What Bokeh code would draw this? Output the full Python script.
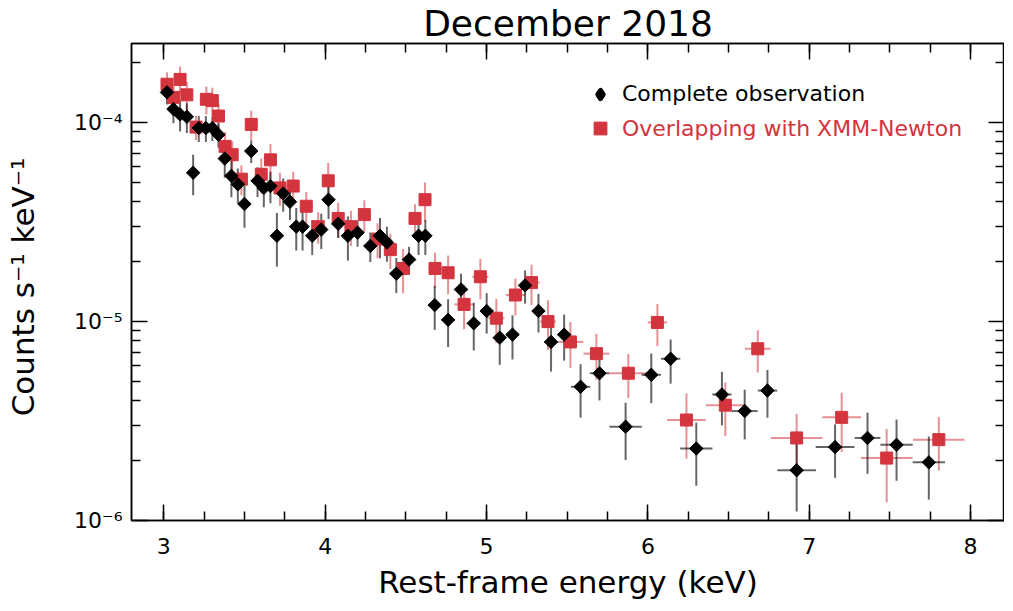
import numpy as np
from bokeh.plotting import figure
from bokeh.models import (ColumnDataSource, Range1d, LinearAxis, LogAxis, FixedTicker,
                          SingleIntervalTicker, CustomJSTickFormatter, Legend, LegendItem)
from bokeh.embed import file_html
from bokeh.resources import INLINE

# ---------------- data ----------------
complete_energy = [3.020, 3.060, 3.101, 3.143, 3.182, 3.217, 3.261, 3.301, 3.339, 3.378,
                   3.419, 3.459, 3.500, 3.542, 3.581, 3.620, 3.661, 3.701, 3.740, 3.782,
                   3.821, 3.860, 3.920, 3.976, 4.021, 4.081, 4.141, 4.201, 4.280, 4.340,
                   4.383, 4.441, 4.520, 4.579, 4.621, 4.679, 4.762, 4.842, 4.921, 5.001,
                   5.082, 5.161, 5.239, 5.322, 5.400, 5.481, 5.583, 5.700, 5.862, 6.021,
                   6.141, 6.300, 6.459, 6.600, 6.741, 6.922, 7.160, 7.361, 7.541, 7.741]
complete_counts = [1.42e-4, 1.17e-4, 1.10e-4, 1.07e-4, 5.6e-5, 9.4e-5, 9.4e-5, 9.4e-5, 8.7e-5, 6.6e-5,
                   5.4e-5, 4.9e-5, 3.9e-5, 7.2e-5, 5.1e-5, 4.7e-5, 4.8e-5, 2.7e-5, 4.4e-5, 4.0e-5,
                   3.0e-5, 3.0e-5, 2.7e-5, 2.9e-5, 4.1e-5, 3.1e-5, 2.7e-5, 2.8e-5, 2.4e-5, 2.7e-5,
                   2.5e-5, 1.74e-5, 2.05e-5, 2.7e-5, 2.7e-5, 1.21e-5, 1.02e-5, 1.45e-5, 9.8e-6, 1.13e-5,
                   8.3e-6, 8.6e-6, 1.52e-5, 1.13e-5, 7.9e-6, 8.6e-6, 4.7e-6, 5.5e-6, 2.96e-6, 5.4e-6,
                   6.5e-6, 2.3e-6, 4.3e-6, 3.55e-6, 4.5e-6, 1.79e-6, 2.34e-6, 2.6e-6, 2.4e-6, 1.96e-6]
complete_rel_err = [0.13, 0.15, 0.18, 0.17, 0.23, 0.15, 0.15, 0.14, 0.14, 0.20,
                    0.22, 0.20, 0.24, 0.13, 0.17, 0.20, 0.18, 0.30, 0.19, 0.19,
                    0.24, 0.24, 0.20, 0.20, 0.20, 0.15, 0.25, 0.15, 0.17, 0.23,
                    0.20, 0.20, 0.16, 0.20, 0.20, 0.25, 0.27, 0.20, 0.27, 0.23,
                    0.27, 0.25, 0.19, 0.22, 0.29, 0.26, 0.30, 0.27, 0.32, 0.28,
                    0.25, 0.35, 0.30, 0.28, 0.27, 0.38, 0.30, 0.34, 0.34, 0.35]
complete_half_bin = [0.02, 0.02, 0.02, 0.02, 0.02, 0.02, 0.02, 0.02, 0.02, 0.02,
                     0.02, 0.02, 0.02, 0.02, 0.02, 0.02, 0.02, 0.02, 0.02, 0.02,
                     0.02, 0.02, 0.03, 0.025, 0.025, 0.03, 0.03, 0.03, 0.04, 0.025,
                     0.025, 0.035, 0.04, 0.025, 0.02, 0.04, 0.04, 0.04, 0.04, 0.04,
                     0.04, 0.04, 0.04, 0.04, 0.04, 0.04, 0.06, 0.06, 0.10, 0.06,
                     0.06, 0.10, 0.06, 0.08, 0.06, 0.12, 0.12, 0.08, 0.10, 0.10]

xmm_energy = [3.020, 3.060, 3.101, 3.143, 3.200, 3.264, 3.301, 3.339, 3.380, 3.424,
              3.481, 3.542, 3.604, 3.661, 3.720, 3.802, 3.883, 3.957, 4.019, 4.081,
              4.160, 4.243, 4.325, 4.404, 4.483, 4.557, 4.619, 4.681, 4.762, 4.861,
              4.962, 5.061, 5.179, 5.279, 5.381, 5.520, 5.681, 5.879, 6.059, 6.239,
              6.480, 6.681, 6.922, 7.201, 7.480, 7.803]
xmm_counts = [1.56e-4, 1.34e-4, 1.65e-4, 1.38e-4, 9.5e-5, 1.31e-4, 1.29e-4, 1.08e-4, 7.6e-5, 6.9e-5,
              5.2e-5, 9.8e-5, 5.5e-5, 6.5e-5, 4.7e-5, 4.8e-5, 3.8e-5, 3.0e-5, 5.1e-5, 3.3e-5,
              3.0e-5, 3.45e-5, 2.6e-5, 2.3e-5, 1.85e-5, 3.3e-5, 4.1e-5, 1.85e-5, 1.76e-5, 1.22e-5,
              1.68e-5, 1.04e-5, 1.36e-5, 1.57e-5, 1.0e-5, 7.9e-6, 6.9e-6, 5.5e-6, 9.9e-6, 3.2e-6,
              3.8e-6, 7.3e-6, 2.6e-6, 3.3e-6, 2.06e-6, 2.55e-6]
xmm_rel_err = [0.15, 0.15, 0.16, 0.16, 0.14, 0.16, 0.16, 0.16, 0.18, 0.17,
               0.17, 0.17, 0.20, 0.20, 0.19, 0.18, 0.18, 0.18, 0.23, 0.20,
               0.20, 0.18, 0.20, 0.20, 0.25, 0.18, 0.22, 0.20, 0.22, 0.25,
               0.23, 0.25, 0.21, 0.23, 0.28, 0.26, 0.26, 0.25, 0.24, 0.36,
               0.30, 0.24, 0.32, 0.33, 0.40, 0.30]
xmm_half_bin = [0.02, 0.02, 0.02, 0.02, 0.03, 0.03, 0.02, 0.02, 0.02, 0.025,
                0.03, 0.03, 0.03, 0.03, 0.03, 0.04, 0.04, 0.04, 0.03, 0.03,
                0.04, 0.04, 0.04, 0.04, 0.04, 0.04, 0.03, 0.04, 0.04, 0.06,
                0.05, 0.05, 0.06, 0.05, 0.05, 0.08, 0.08, 0.12, 0.06, 0.12,
                0.12, 0.08, 0.16, 0.12, 0.16, 0.16]

x_major_ticks = [3, 4, 5, 6, 7, 8]
y_major_ticks = [1e-6, 1e-5, 1e-4]

RED = "#d3343e"
FONT = "DejaVu Sans"


def make_source(e, c, rel, hb):
    e = np.asarray(e); c = np.asarray(c); rel = np.asarray(rel); hb = np.asarray(hb)
    return ColumnDataSource(dict(x=e, y=c, ylo=c * (1 - rel), yhi=c * (1 + rel),
                                 xlo=e - hb, xhi=e + hb))


src_c = make_source(complete_energy, complete_counts, complete_rel_err, complete_half_bin)
src_x = make_source(xmm_energy, xmm_counts, xmm_rel_err, xmm_half_bin)

p = figure(width=1004, height=608, x_range=Range1d(2.8, 8.21), y_range=Range1d(1e-6, 2.5e-4),
           y_axis_type="log", output_backend="svg", toolbar_location=None,
           min_border_left=131, min_border_right=0, min_border_top=0, min_border_bottom=88,
           title="December 2018")
p.grid.visible = False
p.outline_line_color = "black"
p.outline_line_width = 1.5

p.title.align = "center"
p.title.text_font = FONT
p.title.text_font_size = "36px"
p.title.text_font_style = "normal"
p.title.text_color = "black"
p.title.standoff = 0
p.title.offset = 0

# error bars
p.segment(x0="x", y0="ylo", x1="x", y1="yhi", source=src_x, line_color=RED, line_alpha=0.55, line_width=2)
p.segment(x0="xlo", y0="y", x1="xhi", y1="y", source=src_x, line_color=RED, line_alpha=0.55, line_width=2)
p.segment(x0="x", y0="ylo", x1="x", y1="yhi", source=src_c, line_color="black", line_alpha=0.6, line_width=2)
p.segment(x0="xlo", y0="y", x1="xhi", y1="y", source=src_c, line_color="black", line_alpha=0.6, line_width=2)

r_x = p.scatter("x", "y", source=src_x, marker="square", size=12, fill_color=RED, line_color=RED)
# diamonds: squares rotated by 45 degrees
p.scatter("x", "y", source=src_c, marker="square", angle=np.pi / 4, size=9.5,
          fill_color="black", line_color="black")
# legend swatch for the diamonds (the legend does not rotate markers)
r_c_leg = p.scatter("x", "y", source=src_c, marker="diamond", size=8, fill_color="black",
                    line_color="black", line_width=5, line_join="round", visible=False)

# axes
x_ticker = SingleIntervalTicker(interval=1, num_minor_ticks=4)
y_minor = [m * t for t in y_major_ticks + [1e-3] for m in range(2, 10)]
y_ticker = FixedTicker(ticks=y_major_ticks, minor_ticks=y_minor)
y_fmt = CustomJSTickFormatter(code=r"""
const e = Math.round(Math.log10(tick));
const m = {"-":"\u207b","0":"\u2070","1":"\u00b9","2":"\u00b2","3":"\u00b3","4":"\u2074",
           "5":"\u2075","6":"\u2076","7":"\u2077","8":"\u2078","9":"\u2079"};
return "10" + String(e).split("").map(c => m[c]).join("");
""")
blank_fmt = CustomJSTickFormatter(code="return '';")


def style_axis(ax, labels=True):
    ax.axis_line_color = "black"
    ax.axis_line_width = 1.5
    ax.major_tick_line_color = "black"
    ax.major_tick_line_width = 1.5
    ax.minor_tick_line_color = "black"
    ax.minor_tick_line_width = 1.5
    ax.major_tick_in = 16
    ax.major_tick_out = 0
    ax.minor_tick_in = 9
    ax.minor_tick_out = 0
    ax.major_label_text_font = FONT
    ax.major_label_text_font_size = "22px"
    ax.major_label_text_color = "black"
    ax.axis_label_text_font = FONT
    ax.axis_label_text_font_style = "normal"
    ax.axis_label_text_color = "black"
    if not labels:
        ax.formatter = blank_fmt
        ax.major_label_standoff = 0
        ax.major_label_text_font_size = "6px"


xa = p.xaxis[0]
xa.ticker = x_ticker
style_axis(xa)
xa.axis_label = "Rest-frame energy (keV)"
xa.axis_label_text_font_size = "31px"
xa.major_label_standoff = 17
xa.axis_label_standoff = 7

ya = p.yaxis[0]
ya.ticker = y_ticker
ya.formatter = y_fmt
style_axis(ya)
ya.axis_label = "Counts s\u207b\u00b9  keV\u207b\u00b9"
ya.axis_label_text_font_size = "31px"
ya.major_label_standoff = 9
ya.axis_label_standoff = 30

xt = LinearAxis(ticker=x_ticker)
style_axis(xt, labels=False)
p.add_layout(xt, "above")
yr = LogAxis(ticker=y_ticker)
style_axis(yr, labels=False)
p.add_layout(yr, "right")

# legends
leg_c = Legend(items=[LegendItem(label="Complete observation", renderers=[r_c_leg])],
               location=(459, 414), glyph_width=20, glyph_height=20, label_height=24,
               label_standoff=12, padding=0, margin=0, spacing=0, click_policy="none",
               border_line_color=None, background_fill_alpha=0, inactive_fill_alpha=0,
               label_text_font=FONT, label_text_font_size="22px", label_text_color="black")
leg_x = Legend(items=[LegendItem(label="Overlapping with XMM-Newton", renderers=[r_x])],
               location=(453, 376), glyph_width=32, glyph_height=32, label_height=32,
               label_standoff=6, padding=0, margin=0, spacing=0,
               border_line_color=None, background_fill_alpha=0,
               label_text_font=FONT, label_text_font_size="22px", label_text_color=RED)
p.add_layout(leg_c)
p.add_layout(leg_x)

open("out.html", "w").write(file_html(p, INLINE))
